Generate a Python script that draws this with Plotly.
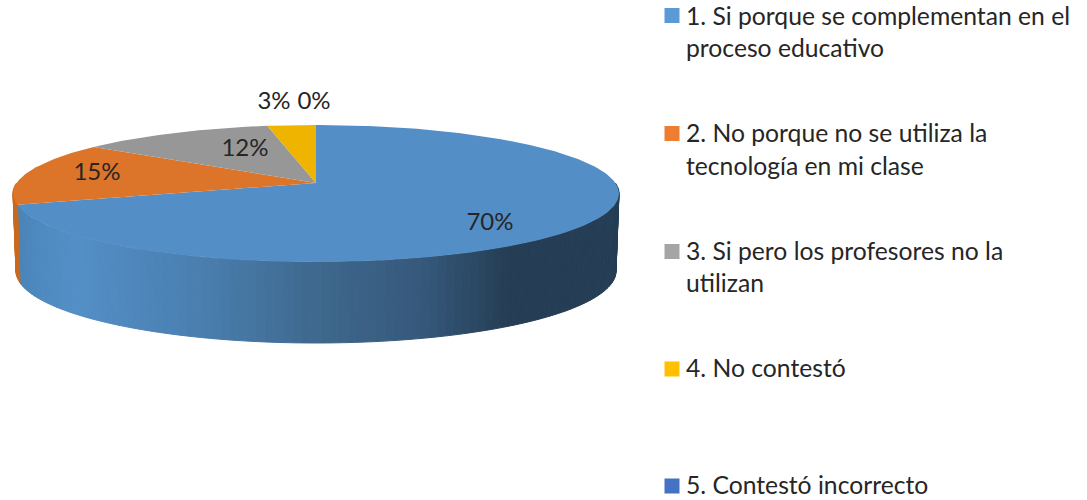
import numpy as np
import plotly.graph_objects as go

# ---- data ----
categories = ["1. Si porque se complementan en el proceso educativo",
              "2. No porque no se utiliza la tecnología en mi clase",
              "3. Si pero los profesores no la utilizan",
              "4. No contestó",
              "5. Contestó incorrecto"]
values = [70, 15, 12, 3, 0]
value_labels = ["70%", "15%", "12%", "3%", "0%"]
top_colors = ["#538EC6", "#DC7529", "#979797", "#EFB400", "#4472C4"]
side_colors = ["#538EC6", "#C9691F", "#888888", "#D9A300", "#3E68B0"]
legend_colors = ["#5B9BD5", "#ED7D31", "#A5A5A5", "#FFC000", "#4472C4"]
legend_lines = [["1. Si porque se complementan en el", "proceso educativo"],
                ["2. No porque no se utiliza la", "tecnología en mi clase"],
                ["3. Si pero los profesores no la", "utilizan"],
                ["4. No contestó"],
                ["5. Contestó incorrecto"]]
legend_line_y = [[15, 47], [132, 165], [250, 282], [367], [484]]
legend_swatch_y = [15.5, 133.5, 251.5, 369, 486]
label_pos = [(490, 224), (97, 174), (245, 150), (274, 103), (314, 103)]

# ---- projection of the tilted disc ----
CX, CY, A, B, K = 316.0, 183.0, 299.4, 66.9, 0.153
CY2, A2, B2 = 260.0, 296.5, 70.3
FONT = "Lato"
TXT = "#262626"


def top_xy(t):
    w = 1 + K * np.cos(t)
    return CX + A * np.sin(t) / w, CY - B * np.cos(t) / w


def bot_xy(t):
    w = 1 + K * np.cos(t)
    return CX + A2 * np.sin(t) / w, CY2 - B2 * np.cos(t) / w


shares = np.array(values, float) / sum(values)
edges = np.concatenate([[0], np.cumsum(shares)]) * 2 * np.pi

grad_x = [15, 40, 75, 200, 316, 420, 510, 620]
grad_rgb = np.array([[0x4A, 0x84, 0xB8], [0x4F, 0x8A, 0xC0], [0x54, 0x8F, 0xC7], [0x4A, 0x7F, 0xB0],
                     [0x3F, 0x69, 0x8E], [0x36, 0x59, 0x7C], [0x25, 0x3E, 0x55], [0x25, 0x3E, 0x55]])


def side_color(x):
    return "rgb(%d,%d,%d)" % tuple(np.interp(x, grad_x, grad_rgb[:, i]) for i in range(3))


fig = go.Figure()

# side wall (front half of the rim)
step = np.radians(1.5)
for i, v in enumerate(values):
    if v == 0:
        continue
    lo, hi = max(edges[i], np.pi / 2), min(edges[i + 1], 3 * np.pi / 2)
    if hi <= lo:
        continue
    n = max(1, int((hi - lo) / step))
    ts = np.linspace(lo, hi, n + 1)
    for a, b in zip(ts[:-1], ts[1:]):
        seg = np.linspace(a, b, 3)
        xt, yt = top_xy(seg)
        xb, yb = bot_xy(seg[::-1])
        col = side_color(xt.mean()) if i == 0 else side_colors[i]
        fig.add_trace(go.Scatter(x=np.r_[xt, xb, xt[0]], y=np.r_[yt, yb, yt[0]], mode="lines", fill="toself",
                                 fillcolor=col, line=dict(width=1, color=col), hoverinfo="skip", showlegend=False))

# top face
for i, v in enumerate(values):
    if v == 0:
        continue
    seg = np.linspace(edges[i], edges[i + 1], max(3, int(v * 4)))
    x, y = top_xy(seg)
    fig.add_trace(go.Scatter(x=np.r_[CX, x, CX], y=np.r_[CY, y, CY], mode="lines", fill="toself",
                             fillcolor=top_colors[i], line=dict(width=0), name=categories[i],
                             hoverinfo="name", showlegend=False))

# percentage labels
fig.add_trace(go.Scatter(x=[p[0] for p in label_pos], y=[p[1] for p in label_pos], text=value_labels,
                         mode="text", textposition="middle center", hoverinfo="skip", showlegend=False,
                         textfont=dict(family=FONT, size=24, color=TXT)))

# legend swatches
fig.add_trace(go.Scatter(x=[672] * len(categories), y=legend_swatch_y, mode="markers", hoverinfo="skip",
                         showlegend=False, marker=dict(symbol="square", size=15, color=legend_colors, line=dict(width=0))))

# legend text
for lines, ys in zip(legend_lines, legend_line_y):
    for line, y in zip(lines, ys):
        fig.add_annotation(x=686, y=y, xref="x", yref="y", text=line, showarrow=False, xanchor="left",
                           yanchor="middle", xshift=-2, font=dict(family=FONT, size=24.7, color=TXT))

fig.update_layout(width=1087, height=500, margin=dict(l=0, r=0, t=0, b=0), showlegend=False,
                  paper_bgcolor="white", plot_bgcolor="white",
                  xaxis=dict(range=[0, 1087], visible=False, fixedrange=True),
                  yaxis=dict(range=[500, 0], visible=False, fixedrange=True))
post = ("document.body.style.margin='0';document.documentElement.style.overflow='hidden';"
        "var s=document.createElement('style');s.textContent='text{font-variant-ligatures:none}';"
        "document.head.appendChild(s);")
fig.write_html("out.html", post_script=post, config={"displayModeBar": False})
